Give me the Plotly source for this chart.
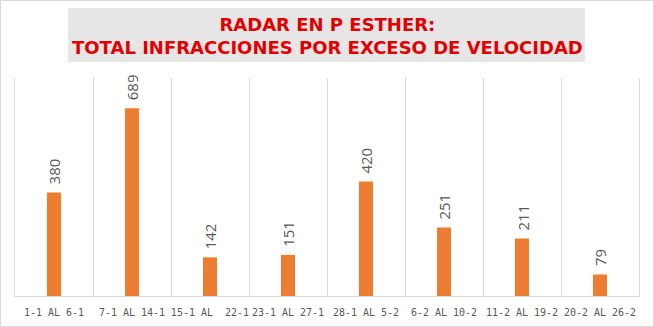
import plotly.graph_objects as go

categories = ["1-1 AL 6-1", "7-1 AL 14-1", "15-1 AL  22-1", "23-1 AL 27-1",
              "28-1 AL 5-2", "6-2 AL 10-2", "11-2 AL 19-2", "20-2 AL 26-2"]
values = [380, 689, 142, 151, 420, 251, 211, 79]
title_lines = ["RADAR EN P ESTHER:", "TOTAL INFRACCIONES POR EXCESO DE VELOCIDAD"]

W, H = 654, 327
L, R, T, B = 15, 15, 78, 31
pw, ph = W - L - R, H - T - B

def px(x):
    return (x - L) / pw

def py(y):
    return (H - B - y) / ph

fig = go.Figure()
fig.add_trace(go.Bar(x=categories, y=values, marker_color="#ed7d31",
                     marker_line_width=0, hoverinfo="skip"))

for c, v in zip(categories, values):
    fig.add_annotation(x=c, y=v, text=str(v), showarrow=False, textangle=-90,
                       yanchor="bottom", xanchor="center", yshift=6,
                       font=dict(family="Open Sans", size=15, color="#595959"))

# title box
fig.add_shape(type="rect", xref="paper", yref="paper",
              x0=px(68), x1=px(585), y0=py(62), y1=py(8),
              fillcolor="#e7e6e6", line_width=0, layer="below")
fig.add_annotation(xref="paper", yref="paper", x=px(327), y=py(36),
                   xanchor="center", yanchor="middle", showarrow=False,
                   text="<b>" + "<br>".join(title_lines) + "</b>",
                   font=dict(family="DejaVu Sans", size=18, color="#e00000"))
# outer border
fig.add_shape(type="rect", xref="paper", yref="paper",
              x0=px(0.5), x1=px(653.5), y0=py(326.5), y1=py(0.5),
              line=dict(color="#d9d9d9", width=1), fillcolor="rgba(0,0,0,0)")

fig.update_layout(
    width=W, height=H, margin=dict(l=L, r=R, t=T, b=B),
    paper_bgcolor="white", plot_bgcolor="white", showlegend=False,
    bargap=0.82,
    xaxis=dict(type="category", tickson="boundaries", showgrid=True,
               gridcolor="#d9d9d9", gridwidth=1, showline=True,
               linecolor="#d9d9d9", linewidth=1, ticks="", tickangle=0,
               ticklabelstandoff=7, automargin=False,
               tickfont=dict(family="DejaVu Sans Mono", size=10, color="#595959")),
    yaxis=dict(range=[0, 800], showgrid=False, zeroline=False,
               showticklabels=False, showline=True, mirror=True,
               linecolor="#d9d9d9", linewidth=1, automargin=False),
)

fig.write_html("out.html")
